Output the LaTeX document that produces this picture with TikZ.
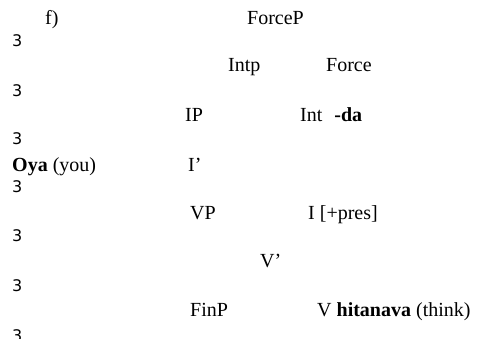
\documentclass[tikz,border=0pt]{standalone}
\usepackage{fontspec}
\setmainfont{Liberation Serif}
\newfontfamily\digitfont{DejaVu Sans}
\usepackage{tikz}

\begin{document}
\begin{tikzpicture}[x=1pt,y=-1pt,
	lbl/.style={anchor=base west,inner sep=0pt,font=\fontsize{20}{24}\selectfont},
	brk/.style={anchor=base west,inner sep=0pt,font=\digitfont\fontsize{16}{19}\selectfont}]
	\useasboundingbox (0,0) rectangle (481,338);
	
	\node[lbl] (ex) at (45,24) {f)};
	\node[lbl] (forcep) at (247,24) {ForceP};
	\node[lbl] (intp) at (228,71) {Intp};
	\node[lbl] (force) at (326,71) {Force};
	\node[lbl] (ip) at (185,121) {IP};
	\node[lbl] (int) at (300,121) {Int\hspace{0.6em}\textbf{-da}};
	\node[lbl] (oya) at (12,171) {\textbf{Oya} (you)};
	\node[lbl] (ibar) at (188,171) {I'};
	\node[lbl] (vp) at (190,219) {VP};
	\node[lbl] (infl) at (308,219) {I [+pres]};
	\node[lbl] (vbar) at (260,267) {V'};
	\node[lbl] (finp) at (190,316) {FinP};
	\node[lbl] (verb) at (317,316) {V \textbf{hitanava} (think)};
	
	\foreach \y in {46,96,144,192,241,291,341} {
		\node[brk] at (12,\y) {3};
	}
\end{tikzpicture}
\end{document}
